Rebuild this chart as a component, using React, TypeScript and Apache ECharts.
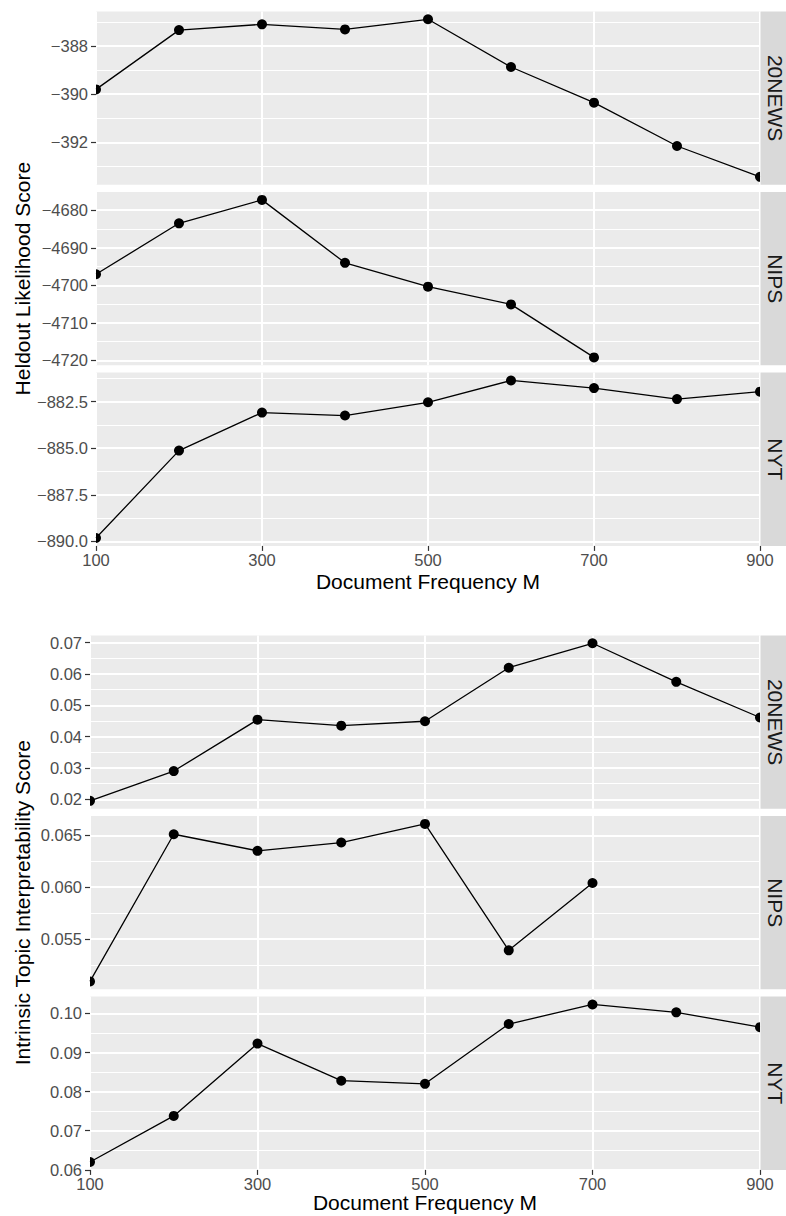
import React, { useEffect, useRef } from "react";
import * as echarts from "echarts";

// ---------- data ----------
const docFreq = [100, 200, 300, 400, 500, 600, 700, 800, 900];
const datasetNames = ["20NEWS", "NIPS", "NYT"];

const heldout20News = [-389.8, -387.34, -387.1, -387.31, -386.89, -388.87, -390.35, -392.15, -393.43];
const heldoutNips = [-4697.06, -4683.48, -4677.24, -4694.01, -4700.36, -4705.08, -4719.2];
const heldoutNyt = [-889.82, -885.13, -883.09, -883.25, -882.54, -881.37, -881.78, -882.37, -881.97];

const interp20News = [0.0195, 0.029, 0.0454, 0.0435, 0.0449, 0.062, 0.0698, 0.0575, 0.0461];
const interpNips = [0.0509, 0.0651, 0.0635, 0.0643, 0.0661, 0.0539, 0.0604];
const interpNyt = [0.062, 0.0738, 0.0923, 0.0828, 0.082, 0.0973, 0.1023, 0.1003, 0.0965];

const xMajorTicks = [100, 300, 500, 700, 900];

const heldout20NewsTicks = [-392, -390, -388];
const heldout20NewsMinor = [-393, -391, -389, -387];
const heldoutNipsTicks = [-4720, -4710, -4700, -4690, -4680];
const heldoutNipsMinor = [-4715, -4705, -4695, -4685];
const heldoutNytTicks = [-890, -887.5, -885, -882.5];
const heldoutNytMinor = [-888.75, -886.25, -883.75, -881.25];

const interp20NewsTicks = [0.02, 0.03, 0.04, 0.05, 0.06, 0.07];
const interp20NewsMinor = [0.025, 0.035, 0.045, 0.055, 0.065];
const interpNipsTicks = [0.055, 0.06, 0.065];
const interpNipsMinor = [0.0525, 0.0575, 0.0625];
const interpNytTicks = [0.06, 0.07, 0.08, 0.09, 0.1];
const interpNytMinor = [0.065, 0.075, 0.085, 0.095];

const xTitle = "Document Frequency M";
const heldoutTitle = "Heldout Likelihood Score";
const interpTitle = "Intrinsic Topic Interpretability Score";

// ---------- layout / style ----------
const FONT = "Liberation Sans, Arial, Helvetica, sans-serif";
const PANEL_BG = "#EBEBEB";
const STRIP_BG = "#D9D9D9";
const TICK_LABEL_COLOR = "#4D4D4D";
const PANEL_RIGHT = 760;
const PANEL_H = 173.3;

type Facet = {
  values: number[];
  major: number[];
  minor: number[];
  decimals: number;
  name: string;
  left: number;
  top: number;
  bottom: boolean;
};

const facets: Facet[] = [
  { values: heldout20News, major: heldout20NewsTicks, minor: heldout20NewsMinor, decimals: 0, name: datasetNames[0], left: 96, top: 11.4, bottom: false },
  { values: heldoutNips, major: heldoutNipsTicks, minor: heldoutNipsMinor, decimals: 0, name: datasetNames[1], left: 96, top: 192.0, bottom: false },
  { values: heldoutNyt, major: heldoutNytTicks, minor: heldoutNytMinor, decimals: 1, name: datasetNames[2], left: 96, top: 372.6, bottom: true },
  { values: interp20News, major: interp20NewsTicks, minor: interp20NewsMinor, decimals: 2, name: datasetNames[0], left: 90, top: 635.4, bottom: false },
  { values: interpNips, major: interpNipsTicks, minor: interpNipsMinor, decimals: 3, name: datasetNames[1], left: 90, top: 816.0, bottom: false },
  { values: interpNyt, major: interpNytTicks, minor: interpNytMinor, decimals: 2, name: datasetNames[2], left: 90, top: 996.6, bottom: true },
];

function expandRange(vals: number[]) {
  const lo = Math.min(...vals);
  const hi = Math.max(...vals);
  const pad = (hi - lo) * 0.05;
  return { min: lo - pad, max: hi + pad };
}

function fmt(v: number, d: number) {
  return v.toFixed(d).replace("-", "\u2212");
}

function buildOption() {
  const grid: any[] = [];
  const xAxis: any[] = [];
  const yAxis: any[] = [];
  const series: any[] = [];
  const graphic: any[] = [];

  facets.forEach((f, i) => {
    grid.push({
      left: f.left,
      top: f.top,
      width: PANEL_RIGHT - f.left,
      height: PANEL_H,
      show: true,
      backgroundColor: PANEL_BG,
      borderWidth: 0,
      containLabel: false,
      outerBoundsMode: "none",
    });
    const r = expandRange(f.values);
    xAxis.push({
      type: "value",
      gridIndex: i,
      min: 100,
      max: 900,
      position: "bottom",
      axisLine: { show: false, onZero: false },
      axisTick: {
        show: f.bottom,
        customValues: xMajorTicks,
        length: 5,
        lineStyle: { color: "#333333", width: 1.2 },
      },
      axisLabel: {
        show: f.bottom,
        customValues: xMajorTicks,
        color: TICK_LABEL_COLOR,
        fontSize: 16.5,
        lineHeight: 16,
        fontFamily: FONT,
        margin: 6,
      },
      splitLine: { show: true, lineStyle: { color: "#FFFFFF", width: 2 } },
    });
    // major y
    yAxis.push({
      type: "value",
      gridIndex: i,
      min: r.min,
      max: r.max,
      position: "left",
      axisLine: { show: false, onZero: false },
      axisTick: {
        show: true,
        customValues: f.major,
        length: 5,
        lineStyle: { color: "#333333", width: 1.2 },
      },
      axisLabel: {
        show: true,
        customValues: f.major,
        color: TICK_LABEL_COLOR,
        fontSize: 16.5,
        lineHeight: 16,
        fontFamily: FONT,
        margin: 8,
        formatter: (v: number) => fmt(v, f.decimals),
      },
      splitLine: { show: true, lineStyle: { color: "#FFFFFF", width: 2 } },
    });
    // minor y gridlines
    yAxis.push({
      type: "value",
      gridIndex: i,
      min: r.min,
      max: r.max,
      position: "left",
      axisLine: { show: false, onZero: false },
      axisTick: { show: false, customValues: f.minor },
      axisLabel: { show: false, customValues: f.minor },
      splitLine: { show: true, lineStyle: { color: "#FFFFFF", width: 1 } },
    });

    const pts = f.values.map((v, j) => [docFreq[j], v]);
    series.push({
      type: "line",
      xAxisIndex: i,
      yAxisIndex: 2 * i,
      data: pts,
      symbol: "none",
      showSymbol: false,
      clip: true,
      lineStyle: { color: "#000000", width: 1.3 },
      z: 3,
    });
    series.push({
      type: "custom",
      xAxisIndex: i,
      yAxisIndex: 2 * i,
      data: pts,
      encode: { x: 0, y: 1 },
      clip: true,
      z: 4,
      renderItem: (_params: any, api: any) => {
        const p = api.coord([api.value(0), api.value(1)]);
        return {
          type: "circle",
          shape: { cx: p[0], cy: p[1], r: 5 },
          style: { fill: "#000000" },
        };
      },
    });

    // strip
    graphic.push({
      type: "rect",
      shape: { x: PANEL_RIGHT + 0.5, y: f.top, width: 40, height: PANEL_H },
      style: { fill: STRIP_BG },
      z: 10,
    });
    graphic.push({
      type: "text",
      x: PANEL_RIGHT + 15.5,
      y: f.top + PANEL_H / 2,
      rotation: -Math.PI / 2,
      style: {
        text: f.name,
        fill: "#1A1A1A",
        font: `21px ${FONT}`,
        lineHeight: 20,
        align: "center",
        verticalAlign: "middle",
      },
      z: 11,
    });
  });

  // axis titles
  const topMid = (facets[0].top + facets[2].top + PANEL_H) / 2;
  const botMid = (facets[3].top + facets[5].top + PANEL_H) / 2;
  const titleStyle = { fill: "#000000", font: `21px ${FONT}`, lineHeight: 20, align: "center", verticalAlign: "middle" };
  graphic.push({ type: "text", x: 22, y: topMid, rotation: Math.PI / 2, style: { ...titleStyle, text: heldoutTitle } });
  graphic.push({ type: "text", x: 22, y: botMid, rotation: Math.PI / 2, style: { ...titleStyle, text: interpTitle } });
  graphic.push({ type: "text", x: (96 + PANEL_RIGHT) / 2, y: 581, style: { ...titleStyle, text: xTitle } });
  graphic.push({ type: "text", x: (90 + PANEL_RIGHT) / 2, y: 1202, style: { ...titleStyle, text: xTitle } });

  return {
    animation: false,
    backgroundColor: "#FFFFFF",
    textStyle: { fontFamily: FONT },
    grid,
    xAxis,
    yAxis,
    series,
    graphic,
  };
}

export default function App() {
  const ref = useRef<HTMLDivElement>(null);
  useEffect(() => {
    document.body.style.margin = "0";
    const chart = echarts.init(ref.current as HTMLDivElement, null, { renderer: "svg" });
    chart.setOption(buildOption() as any);
    return () => chart.dispose();
  }, []);
  return (
    <div
      ref={ref}
      style={{ position: "absolute", left: 0, top: 0, width: 786, height: 1216, background: "#FFFFFF" }}
    />
  );
}
